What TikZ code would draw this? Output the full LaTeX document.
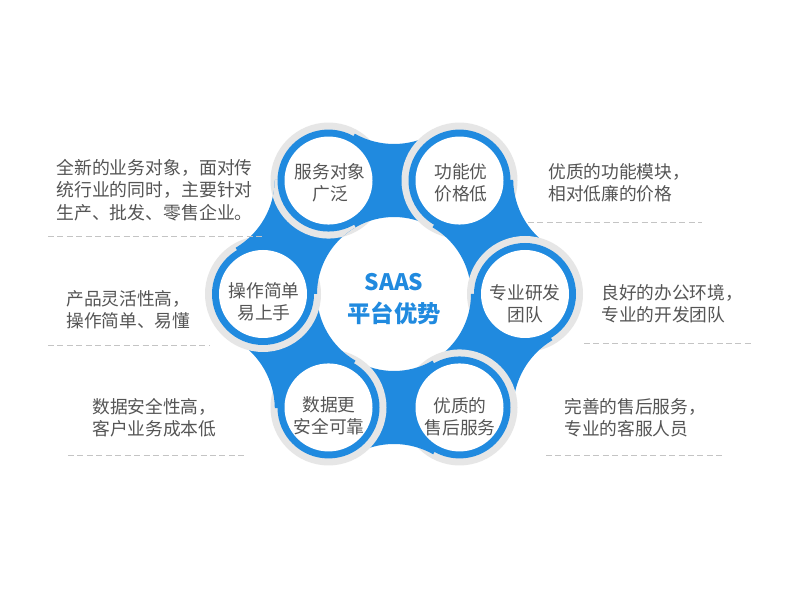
\documentclass[tikz,border=0pt]{standalone}
\usepackage{fontspec}
\usetikzlibrary{calc}
\setmainfont{Noto Sans CJK SC}
\definecolor{mainblue}{HTML}{208ADF}
\definecolor{ringgrey}{HTML}{E6E6E6}
\definecolor{txtgrey}{HTML}{555555}
\definecolor{dashgrey}{HTML}{C4C4C4}
\tikzset{
  desc/.style={anchor=west,align=left,text=txtgrey,font=\fontsize{13.3pt}{16.8pt}\selectfont,inner sep=0pt},
  sattext/.style={align=center,text=txtgrey,font=\fontsize{13.3pt}{16.5pt}\selectfont,inner sep=0pt},
  sepline/.style={draw=dashgrey,dash pattern=on 4.5pt off 2.6pt,line width=0.6pt},
  centretext/.style={text=mainblue,inner sep=0pt},
  greyring/.style={fill=ringgrey},
}
% one blue neck between two neighbouring satellites, in a frame whose cut points up
\newcommand{\neckpath}{(120:77) -- (120:131) -- (-39.195,160.257)
  arc[start angle=240.66,end angle=299.34,radius=80] -- (60:131) -- (60:77)
  arc[start angle=60,end angle=120,radius=77] -- cycle}
\newcommand{\neck}[1]{\fill[mainblue,shift={(C)},rotate=#1] \neckpath;}
\begin{document}
\begin{tikzpicture}[x=0.75pt,y=0.75pt]
\useasboundingbox (0,0) rectangle (800,600);
\fill[white] (0,0) rectangle (800,600);
\coordinate (C) at (394,306);
\coordinate (s1) at ($(C)+(120:131)$);
\coordinate (s2) at ($(C)+(60:131)$);
\coordinate (s3) at ($(C)+(0:131)$);
\coordinate (s4) at ($(C)+(-60:131)$);
\coordinate (s5) at ($(C)+(-120:131)$);
\coordinate (s6) at ($(C)+(180:131)$);
% pinwheel layering: grey ring of a satellite, then the neck leaving it clockwise
\fill[greyring] (s1) circle[radius=58];
\neck{0}
\fill[greyring] (s2) circle[radius=58];
\neck{-60}
\fill[greyring] (s3) circle[radius=58];
\neck{-120}
\fill[greyring] (s4) circle[radius=58];
\neck{-180}
\fill[greyring] (s5) circle[radius=58];
\neck{-240}
\fill[greyring] (s6) circle[radius=58];
\neck{60}
\begin{scope}
  \clip[shift={(C)},rotate=60] \neckpath;
  \fill[greyring] (s1) circle[radius=58];
\end{scope}
% satellites
\foreach \s in {s1,s2,s3,s4,s5,s6}{
  \fill[mainblue] (\s) circle[radius=51];
  \fill[white] (\s) circle[radius=44];
}
% texts in satellites
\node[sattext] (t1) at (330,417) {服务对象\\广泛};
\node[sattext] (t2) at (461,417) {功能优\\价格低};
\node[sattext] (t3) at (525,296) {专业研发\\团队};
\node[sattext] (t4) at (460,183) {优质的\\售后服务};
\node[sattext] (t5) at (329,184) {数据更\\安全可靠};
\node[sattext] (t6) at (264,298) {操作简单\\易上手};
% centre text
\node[centretext,font=\fontsize{17pt}{20pt}\bfseries\selectfont] (saas) at (394,318) {SAAS};
\node[centretext,font=\fontsize{17.5pt}{20pt}\bfseries\selectfont] (ptys) at (394,287) {平台优势};
% descriptions
\node[desc,font=\fontsize{13.4pt}{17pt}\selectfont] (d1) at (56,410) {全新的业务对象，面对传\\统行业的同时，主要针对\\生产、批发、零售企业。};
\node[desc] (d2) at (548,417) {优质的功能模块，\\相对低廉的价格};
\node[desc] (d6) at (66,290) {产品灵活性高，\\操作简单、易懂};
\node[desc] (d3) at (601,296) {良好的办公环境，\\专业的开发团队};
\node[desc] (d5) at (92,182) {数据安全性高，\\客户业务成本低};
\node[desc] (d4) at (564,182) {完善的售后服务，\\专业的客服人员};
% dashed separators
\coordinate (a1) at (48,364); \coordinate (b1) at (262,364);
\coordinate (a2) at (528,378); \coordinate (b2) at (702,378);
\coordinate (a3) at (48,255); \coordinate (b3) at (210,255);
\coordinate (a4) at (584,257); \coordinate (b4) at (752,257);
\coordinate (a5) at (68,145); \coordinate (b5) at (246,145);
\coordinate (a6) at (546,145); \coordinate (b6) at (722,145);
\foreach \i in {1,...,6}{\draw[sepline] (a\i) -- (b\i);}
\end{tikzpicture}
\end{document}
